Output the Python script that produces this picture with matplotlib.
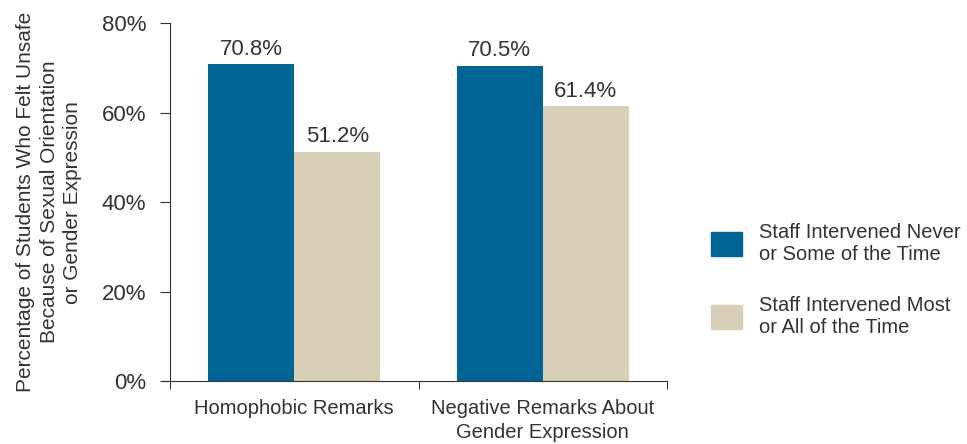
import numpy as np
import matplotlib.pyplot as plt
from matplotlib.patches import Patch

# data
categories = ["Homophobic Remarks", "Negative Remarks About\nGender Expression"]
never_some = [70.8, 70.5]
most_all = [51.2, 61.4]
series_labels = ["Staff Intervened Never\nor Some of the Time",
                 "Staff Intervened Most\nor All of the Time"]
yticks = [0, 20, 40, 60, 80]

blue = "#006494"
beige = "#d8cfb7"
txt = "#333333"

plt.rcParams['font.family'] = ['Liberation Sans', 'DejaVu Sans']

fig = plt.figure(figsize=(9.67, 4.44), dpi=100)
ax = fig.add_axes([0.1758, 0.1419, 0.514, 0.806])

x = np.arange(len(categories))
w = 0.347
b1 = ax.bar(x - w / 2, never_some, w, color=blue)
b2 = ax.bar(x + w / 2, most_all, w, color=beige)

for bars, vals in [(b1, never_some), (b2, most_all)]:
    for r, v in zip(bars, vals):
        ax.text(r.get_x() + r.get_width() / 2, v + 1.0, f"{v:.1f}%",
                ha="center", va="bottom", fontsize=16, color=txt)

ax.set_xlim(-0.5, 1.5)
ax.set_ylim(0, 80)
ax.set_yticks(yticks)
ax.set_yticklabels([f"{t}%" for t in yticks], fontsize=16, color=txt)
ax.set_xticks([-0.5, 0.5, 1.5])
ax.set_xticklabels([])
ax.set_xticks(x, minor=True)
ax.set_xticklabels(categories, minor=True, fontsize=14.5, color=txt, linespacing=1.3)
ax.tick_params(axis="x", which="minor", length=0, pad=13)
ax.tick_params(axis="x", which="major", length=6, color=txt)
ax.tick_params(axis="y", length=7, color=txt, pad=10)

for s in ["top", "right"]:
    ax.spines[s].set_visible(False)
ax.spines["left"].set_color(txt)
ax.spines["bottom"].set_color(txt)
ax.spines["bottom"].set_bounds(-0.53, 1.5)

ax.set_ylabel("Percentage of Students Who Felt Unsafe\nBecause of Sexual Orientation\nor Gender Expression",
              fontsize=15, color=txt, labelpad=14, linespacing=1.3)

handles = [Patch(color=blue), Patch(color=beige)]
fig.legend(handles, series_labels, loc="center left", bbox_to_anchor=(0.717, 0.37),
           frameon=False, fontsize=14.5, handlelength=1.5, handleheight=1.5,
           handletextpad=0.85, labelspacing=1.6, labelcolor=txt)

fig.savefig("out.png", dpi=100)
